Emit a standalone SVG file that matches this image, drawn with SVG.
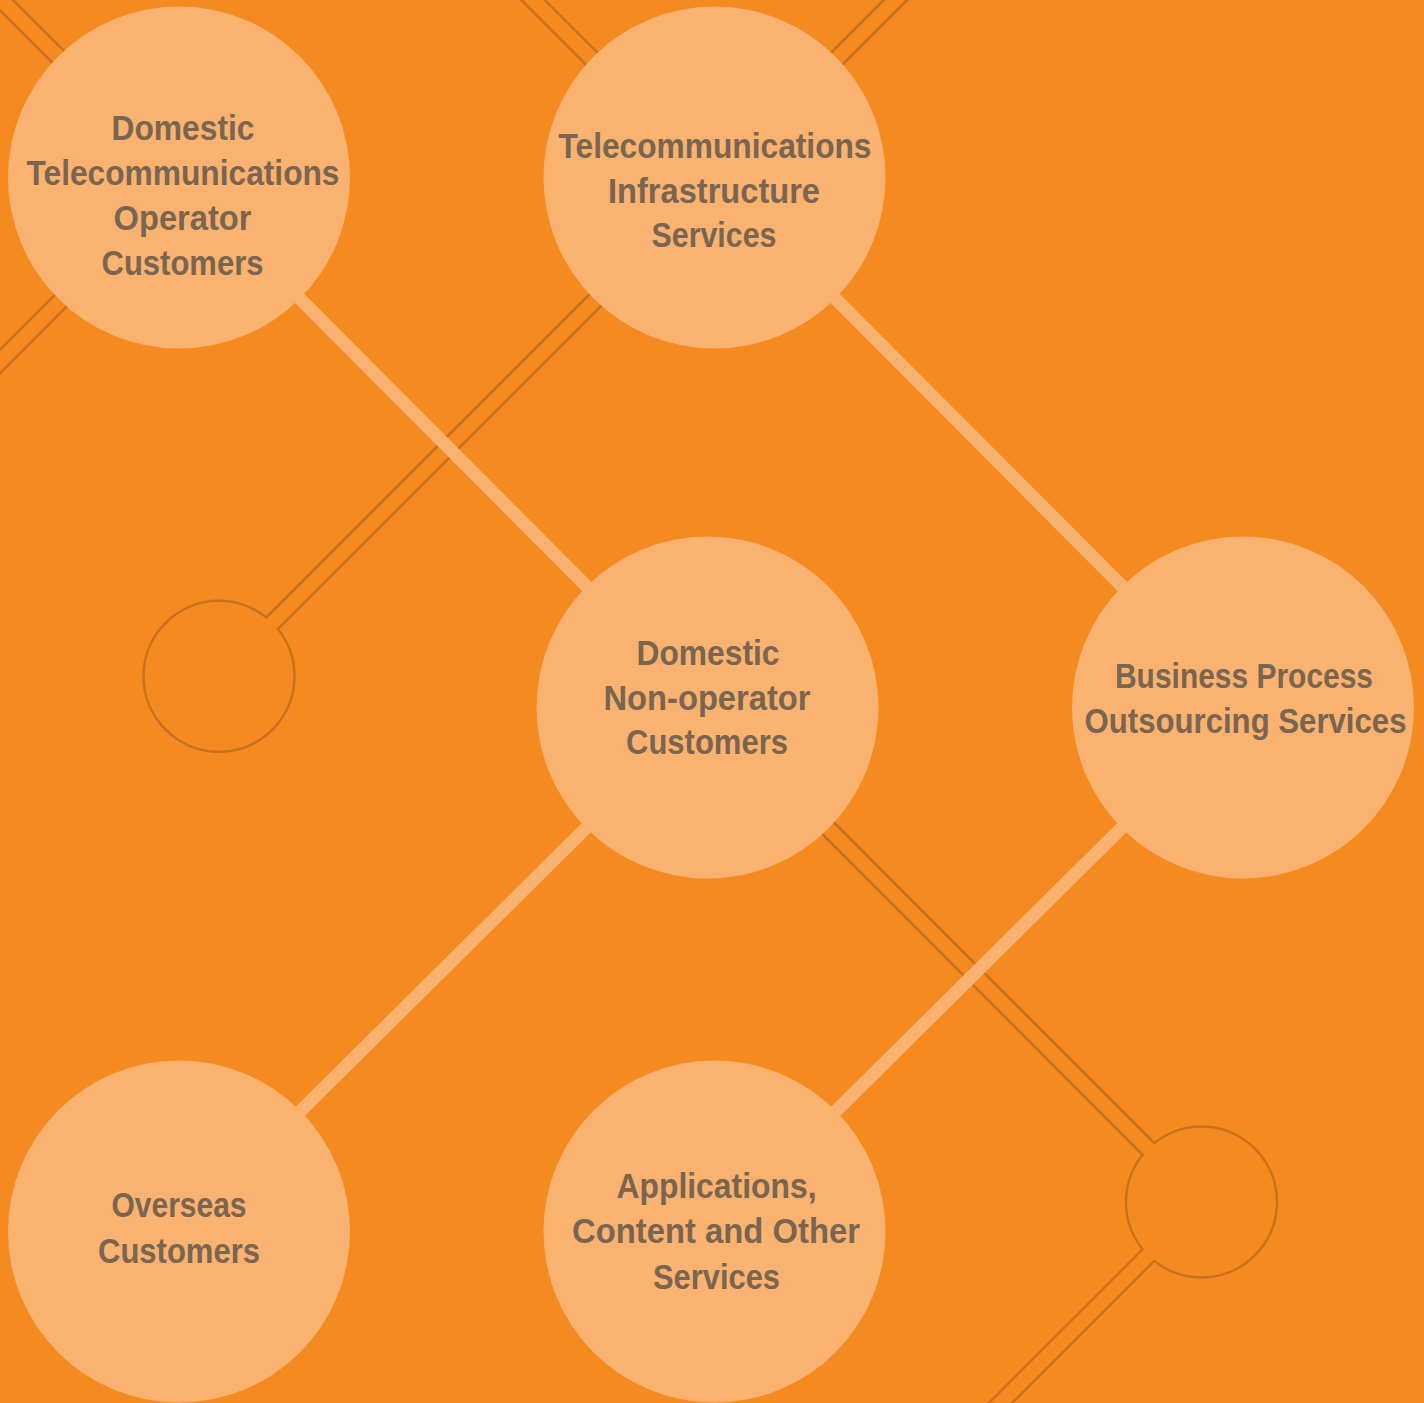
<svg xmlns="http://www.w3.org/2000/svg" width="1424" height="1403" viewBox="0 0 1424 1403">
<style>
.pipe{stroke:#C8711F;stroke-width:19;fill:none;stroke-linecap:butt}
.pipein{stroke:#F58B20;stroke-width:14;fill:none;stroke-linecap:butt}
.ring{fill:none;stroke:#C8711F;stroke-width:2.5}
.link{stroke:#F9B26F;stroke-width:13;fill:none}
.node{fill:#F9B26F}
.lbl{font-family:"Liberation Sans",Arial,sans-serif;font-weight:bold;font-size:35px;fill:#7A6550;text-anchor:middle}
</style>
<rect x="0" y="0" width="1424" height="1403" fill="#F58B20"/>
<g id="rings">
<circle id="ring1" class="ring" cx="219" cy="676.3" r="75.5"/>
<circle id="ring2" class="ring" cx="1201.5" cy="1202" r="75.5"/>
</g>
<g id="connectors">
<line class="pipe" x1="-30" y1="-31.5" x2="180" y2="178.5"/>
<line class="pipe" x1="180" y1="181.5" x2="-30" y2="391.5"/>
<line class="pipe" x1="503" y1="-30" x2="714" y2="181"/>
<line class="pipe" x1="925.5" y1="-30" x2="272.2" y2="623.1"/>
<line class="pipe" x1="707" y1="707" x2="1148.3" y2="1148.8"/>
<line class="pipe" x1="960" y1="1443.5" x2="1148.3" y2="1255.2"/>
<line class="pipein" x1="-30" y1="-31.5" x2="180" y2="178.5"/>
<line class="pipein" x1="180" y1="181.5" x2="-30" y2="391.5"/>
<line class="pipein" x1="503" y1="-30" x2="714" y2="181"/>
<line class="pipein" x1="925.5" y1="-30" x2="269.2" y2="626.1"/>
<line class="pipein" x1="707" y1="707" x2="1151.3" y2="1151.8"/>
<line class="pipein" x1="960" y1="1443.5" x2="1151.3" y2="1252.2"/>
<line class="link" x1="179" y1="177.5" x2="707.5" y2="707.5"/>
<line class="link" x1="714.5" y1="177.5" x2="1243" y2="707.5"/>
<line class="link" x1="707.5" y1="707.5" x2="179" y2="1231.5"/>
<line class="link" x1="1243" y1="707.5" x2="714.5" y2="1231.5"/>
</g>
<g id="node-domestic-telecom">
<circle class="node" cx="179" cy="177.5" r="171"/>
<text class="lbl"><tspan x="183" y="140" textLength="143" lengthAdjust="spacingAndGlyphs">Domestic</tspan><tspan x="183" y="185" textLength="313" lengthAdjust="spacingAndGlyphs">Telecommunications</tspan><tspan x="182.5" y="230" textLength="138" lengthAdjust="spacingAndGlyphs">Operator</tspan><tspan x="182.5" y="275" textLength="162" lengthAdjust="spacingAndGlyphs">Customers</tspan></text>
</g>
<g id="node-telecom-infra">
<circle class="node" cx="714.5" cy="177.5" r="171"/>
<text class="lbl"><tspan x="715" y="158" textLength="313" lengthAdjust="spacingAndGlyphs">Telecommunications</tspan><tspan x="714" y="202.5" textLength="212" lengthAdjust="spacingAndGlyphs">Infrastructure</tspan><tspan x="714" y="247" textLength="125" lengthAdjust="spacingAndGlyphs">Services</tspan></text>
</g>
<g id="node-domestic-nonop">
<circle class="node" cx="707.5" cy="707.5" r="171"/>
<text class="lbl"><tspan x="708" y="665" textLength="143" lengthAdjust="spacingAndGlyphs">Domestic</tspan><tspan x="707" y="709.5" textLength="207" lengthAdjust="spacingAndGlyphs">Non-operator</tspan><tspan x="707" y="754" textLength="162" lengthAdjust="spacingAndGlyphs">Customers</tspan></text>
</g>
<g id="node-bpo">
<circle class="node" cx="1243" cy="707.5" r="171"/>
<text class="lbl"><tspan x="1244" y="688" textLength="258" lengthAdjust="spacingAndGlyphs">Business Process</tspan><tspan x="1245.5" y="733" textLength="322" lengthAdjust="spacingAndGlyphs">Outsourcing Services</tspan></text>
</g>
<g id="node-overseas">
<circle class="node" cx="179" cy="1231.5" r="171"/>
<text class="lbl"><tspan x="179" y="1217" textLength="135" lengthAdjust="spacingAndGlyphs">Overseas</tspan><tspan x="179" y="1263" textLength="162" lengthAdjust="spacingAndGlyphs">Customers</tspan></text>
</g>
<g id="node-applications">
<circle class="node" cx="714.5" cy="1231.5" r="171"/>
<text class="lbl"><tspan x="716.5" y="1197.5" textLength="200" lengthAdjust="spacingAndGlyphs">Applications,</tspan><tspan x="716" y="1243" textLength="288" lengthAdjust="spacingAndGlyphs">Content and Other</tspan><tspan x="716.5" y="1288.5" textLength="127" lengthAdjust="spacingAndGlyphs">Services</tspan></text>
</g>
</svg>
